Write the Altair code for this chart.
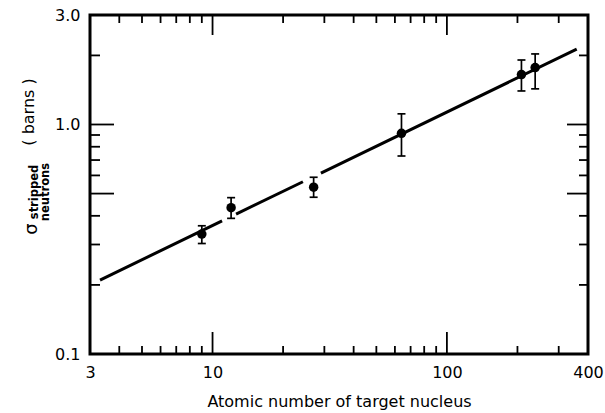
import altair as alt
import pandas as pd

# Data
A = [9, 12, 27, 64, 208, 238]
sigma = [0.333, 0.434, 0.533, 0.915, 1.65, 1.77]
sig_lo = [0.303, 0.390, 0.482, 0.729, 1.40, 1.43]
sig_hi = [0.362, 0.480, 0.589, 1.113, 1.91, 2.03]

line_seg = [0, 0, 1, 1, 2, 2]
line_x = [3.31, 10.98, 12.6, 24.3, 29.0, 358]
line_y = [0.210, 0.380, 0.407, 0.563, 0.614, 2.13]

x_labels = [3, 10, 100, 400]
y_labels = [0.1, 1.0, 3.0]
x_minor = [4, 5, 6, 7, 8, 9, 20, 30, 40, 50, 60, 70, 80, 90, 200, 300]
x_major = [10, 100]
y_minor = [0.2, 0.3, 0.4, 0.6, 0.7, 0.8, 0.9, 2.0]
y_major = [0.5, 1.0]

W, H = 498, 339
FONT = "DejaVu Sans"

xs = alt.Scale(type="log", domain=[3, 400], nice=False)
ys = alt.Scale(type="log", domain=[0.1, 3.0], nice=False)

xax = alt.Axis(values=x_labels, format=".0f", domain=False, ticks=False, grid=False,
               labelFontSize=16, labelFont=FONT, labelColor="black", labelPadding=10,
               labelFlush=False, title="Atomic number of target nucleus",
               titleFont=FONT, titleFontSize=16, titleFontWeight="normal",
               titleColor="black", titlePadding=13)
yax = alt.Axis(values=y_labels, format=".1f", domain=False, ticks=False, grid=False,
               labelFontSize=16, labelFont=FONT, labelColor="black", labelPadding=10,
               title=None)

pts = pd.DataFrame({"A": A, "s": sigma, "lo": sig_lo, "hi": sig_hi})
ln = pd.DataFrame({"seg": line_seg, "x": line_x, "y": line_y})

def X(f):
    return alt.X(f, scale=xs, axis=xax)

def Y(f):
    return alt.Y(f, scale=ys, axis=yax)

points = alt.Chart(pts).mark_circle(size=90, color="black", opacity=1).encode(
    x=X("A:Q"), y=Y("s:Q"))

ebar = alt.Chart(pts).mark_rule(color="black", strokeWidth=1.7).encode(
    x=X("A:Q"), y=Y("lo:Q"), y2="hi:Q")
cap_lo = alt.Chart(pts).mark_rule(color="black", strokeWidth=1.7, xOffset=-4, x2Offset=4).encode(
    x=X("A:Q"), x2="A:Q", y=Y("lo:Q"))
cap_hi = alt.Chart(pts).mark_rule(color="black", strokeWidth=1.7, xOffset=-4, x2Offset=4).encode(
    x=X("A:Q"), x2="A:Q", y=Y("hi:Q"))

fit = alt.Chart(ln).mark_line(color="black", strokeWidth=3).encode(
    x=X("x:Q"), y=Y("y:Q"), detail="seg:N")

def xticks(vals, y0, y1):
    return alt.Chart(pd.DataFrame({"v": vals})).mark_rule(color="black", strokeWidth=1.8).encode(
        x=X("v:Q"), y=alt.value(y0), y2=alt.value(y1))

def yticks(vals, x0, x1):
    return alt.Chart(pd.DataFrame({"v": vals})).mark_rule(color="black", strokeWidth=1.8).encode(
        y=Y("v:Q"), x=alt.value(x0), x2=alt.value(x1))

ticks = [
    xticks(x_minor, H, H - 8), xticks(x_major, H, H - 22),
    xticks(x_minor, 0, 8), xticks(x_major, 0, 20),
    yticks(y_minor, 0, 10), yticks(y_major, 0, 24),
    yticks(y_minor, W, W - 9), yticks(y_major, W, W - 21),
]

def label(text, x, y, size, weight="normal"):
    return alt.Chart(pd.DataFrame({"t": [text]})).mark_text(
        angle=270, font=FONT, fontSize=size, fontWeight=weight, color="black",
        align="center", baseline="middle").encode(
        text="t:N", x=alt.value(x), y=alt.value(y))

ylab = [
    label("( barns )", -61, 97, 16),
    label("σ", -58, 214, 18),
    label("stripped", -55, 177, 11.5, "bold"),
    label("neutrons", -44, 177, 11.5, "bold"),
]

chart = alt.layer(points, fit, ebar, cap_lo, cap_hi, *ticks, *ylab).properties(
    width=W, height=H,
    autosize=alt.AutoSizeParams(type="none"),
    padding={"left": 90, "top": 15, "right": 17, "bottom": 59},
).configure_view(stroke="black", strokeWidth=3)

chart.save("out.html", embed_options={"renderer": "svg", "actions": False})
